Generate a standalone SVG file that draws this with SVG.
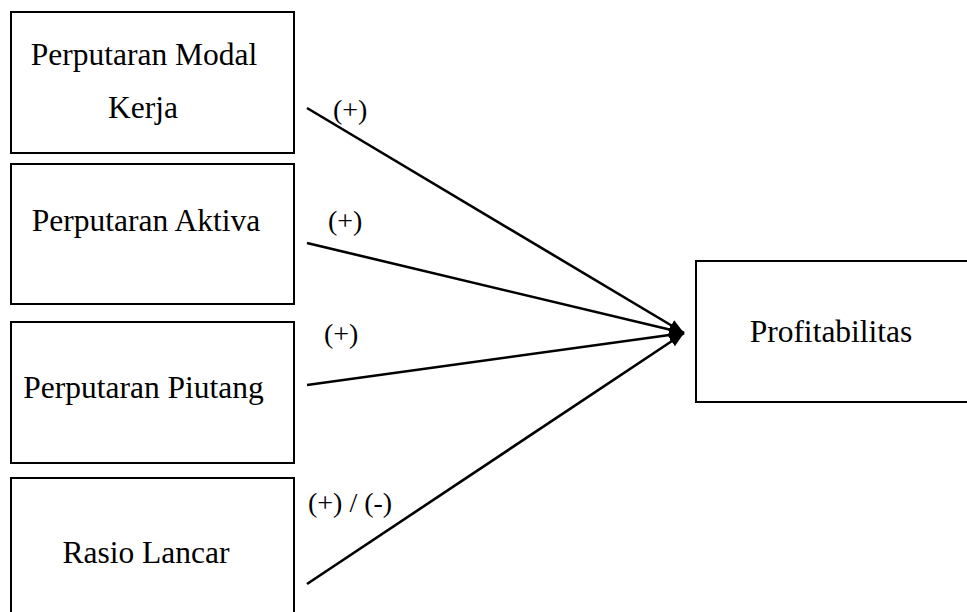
<svg xmlns="http://www.w3.org/2000/svg" width="967" height="612" viewBox="0 0 967 612">
<defs>
<style>
.box{fill:#fff;stroke:#000;stroke-width:2}
.t{font-family:"Liberation Serif","Times New Roman",serif;font-size:31.5px;fill:#000}
.lbl{font-family:"Liberation Serif","Times New Roman",serif;font-size:28px;fill:#000}
.c{stroke:#000;stroke-width:2.6;fill:none;marker-end:url(#ah)}
</style>
<marker id="ah" markerUnits="userSpaceOnUse" markerWidth="16" markerHeight="12" refX="15" refY="6" orient="auto">
<path d="M0,0 L15,6 L0,12 Z" fill="#000"/>
</marker>
</defs>
<rect width="967" height="612" fill="#fff"/>
<g id="n1">
<rect class="box" x="11" y="12" width="283" height="141"/>
<text class="t" x="144" y="65" text-anchor="middle">Perputaran Modal</text>
<text class="t" x="143" y="118" text-anchor="middle">Kerja</text>
</g>
<g id="n2">
<rect class="box" x="11" y="164" width="283" height="140"/>
<text class="t" x="146" y="231" text-anchor="middle">Perputaran Aktiva</text>
</g>
<g id="n3">
<rect class="box" x="11" y="322" width="283" height="141"/>
<text class="t" x="143.5" y="398" text-anchor="middle">Perputaran Piutang</text>
</g>
<g id="n4">
<rect class="box" x="11" y="478" width="283" height="150"/>
<text class="t" x="146" y="563" text-anchor="middle">Rasio Lancar</text>
</g>
<g id="n5">
<rect class="box" x="696" y="261" width="290" height="141"/>
<text class="t" x="831" y="342" text-anchor="middle">Profitabilitas</text>
</g>
<g id="connectors">
<line class="c" x1="307" y1="108" x2="684" y2="333"/>
<line class="c" x1="307" y1="243" x2="684" y2="333"/>
<line class="c" x1="307" y1="385" x2="684" y2="333"/>
<line class="c" x1="307" y1="584" x2="684" y2="333"/>
<text class="lbl" x="333" y="119">(+)</text>
<text class="lbl" x="328" y="230">(+)</text>
<text class="lbl" x="324" y="343">(+)</text>
<text class="lbl" x="308" y="512">(+) / (-)</text>
</g>
</svg>
